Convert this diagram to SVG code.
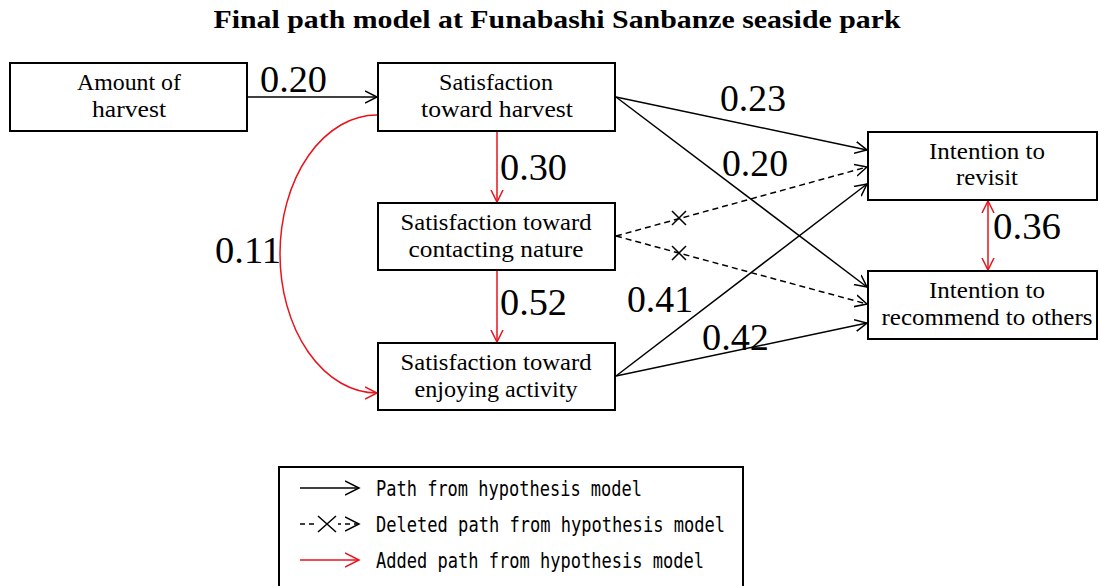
<svg xmlns="http://www.w3.org/2000/svg" width="1099" height="586" viewBox="0 0 1099 586">
<style>
.box{fill:#fff;stroke:#000;stroke-width:2}
.lbl{font-family:"Liberation Serif",serif;font-size:23px;fill:#000;text-anchor:middle}
.num{font-family:"Liberation Serif",serif;font-size:37px;fill:#000}
.title{font-family:"Liberation Serif",serif;font-size:25px;font-weight:bold;fill:#000;text-anchor:middle}
.leg{font-family:"DejaVu Sans Mono",monospace;font-size:21px;fill:#000}
.blk{fill:none;stroke:#000;stroke-width:1.5}
.red{fill:none;stroke:#e8141c;stroke-width:1.5}
.dsh{fill:none;stroke:#000;stroke-width:1.5;stroke-dasharray:6 4}
</style>
<defs>
<marker id="ab" markerUnits="userSpaceOnUse" markerWidth="14" markerHeight="14" refX="12" refY="6" orient="auto-start-reverse" viewBox="0 0 14 12">
<path d="M0,0 L12,6 L0,12" fill="none" stroke="#000" stroke-width="1.5"/>
</marker>
<marker id="ar" markerUnits="userSpaceOnUse" markerWidth="14" markerHeight="14" refX="12" refY="6" orient="auto-start-reverse" viewBox="0 0 14 12">
<path d="M0,0 L12,6 L0,12" fill="none" stroke="#e8141c" stroke-width="1.5"/>
</marker>
<marker id="abl" markerUnits="userSpaceOnUse" markerWidth="16" markerHeight="16" refX="14" refY="7" orient="auto" viewBox="0 0 16 14">
<path d="M0,0 L14,7 L0,14" fill="none" stroke="#000" stroke-width="1.5"/>
</marker>
<marker id="arl" markerUnits="userSpaceOnUse" markerWidth="16" markerHeight="16" refX="14" refY="7" orient="auto" viewBox="0 0 16 14">
<path d="M0,0 L14,7 L0,14" fill="none" stroke="#e8141c" stroke-width="1.5"/>
</marker>
</defs>
<rect width="1099" height="586" fill="#fff"/>
<text class="title" x="557" y="28" textLength="687" lengthAdjust="spacingAndGlyphs">Final path model at Funabashi Sanbanze seaside park</text>

<g id="connectors">
<line class="blk" x1="247" y1="97" x2="377" y2="97" marker-end="url(#ab)"/>
<line class="blk" x1="616" y1="97" x2="867" y2="150" marker-end="url(#ab)"/>
<line class="blk" x1="616" y1="97" x2="867" y2="287" marker-end="url(#ab)"/>
<line class="dsh" x1="616" y1="236" x2="867" y2="167" marker-end="url(#ab)"/>
<line class="dsh" x1="616" y1="236" x2="867" y2="304" marker-end="url(#ab)"/>
<path class="blk" d="M672,211 L686,225 M686,211 L672,225"/>
<path class="blk" d="M672,246 L686,260 M686,246 L672,260"/>
<line class="blk" x1="616" y1="376" x2="867" y2="184" marker-end="url(#ab)"/>
<line class="blk" x1="616" y1="376" x2="867" y2="323" marker-end="url(#ab)"/>
<line class="red" x1="497" y1="131" x2="497" y2="202" marker-end="url(#ar)"/>
<line class="red" x1="497" y1="270" x2="497" y2="342" marker-end="url(#ar)"/>
<path class="red" d="M377,115 A97 139 0 0 0 377,393" marker-end="url(#ar)"/>
<line class="red" x1="988" y1="201" x2="988" y2="270" marker-start="url(#ar)" marker-end="url(#ar)"/>
<text class="num" x="260" y="92" textLength="67" lengthAdjust="spacingAndGlyphs">0.20</text>
<text class="num" x="720" y="111" textLength="66" lengthAdjust="spacingAndGlyphs">0.23</text>
<text class="num" x="722" y="176" textLength="66" lengthAdjust="spacingAndGlyphs">0.20</text>
<text class="num" x="627" y="312" textLength="66" lengthAdjust="spacingAndGlyphs">0.41</text>
<text class="num" x="702" y="350" textLength="67" lengthAdjust="spacingAndGlyphs">0.42</text>
<text class="num" x="500" y="180" textLength="67" lengthAdjust="spacingAndGlyphs">0.30</text>
<text class="num" x="500" y="315" textLength="67" lengthAdjust="spacingAndGlyphs">0.52</text>
<text class="num" x="215" y="263" textLength="66" lengthAdjust="spacingAndGlyphs">0.11</text>
<text class="num" x="993" y="239" textLength="68" lengthAdjust="spacingAndGlyphs">0.36</text>
</g>

<g id="amount">
<rect class="box" x="10" y="63" width="237" height="68"/>
<text class="lbl" x="129" y="90" textLength="104" lengthAdjust="spacingAndGlyphs">Amount of</text>
<text class="lbl" x="129" y="117" textLength="74" lengthAdjust="spacingAndGlyphs">harvest</text>
</g>
<g id="sat-harvest">
<rect class="box" x="378" y="63" width="237" height="68"/>
<text class="lbl" x="496" y="90" textLength="114" lengthAdjust="spacingAndGlyphs">Satisfaction</text>
<text class="lbl" x="497" y="117" textLength="152" lengthAdjust="spacingAndGlyphs">toward harvest</text>
</g>
<g id="sat-nature">
<rect class="box" x="378" y="203" width="237" height="67"/>
<text class="lbl" x="496" y="230" textLength="191" lengthAdjust="spacingAndGlyphs">Satisfaction toward</text>
<text class="lbl" x="496" y="257" textLength="175" lengthAdjust="spacingAndGlyphs">contacting nature</text>
</g>
<g id="sat-activity">
<rect class="box" x="378" y="343" width="237" height="67"/>
<text class="lbl" x="496" y="370" textLength="191" lengthAdjust="spacingAndGlyphs">Satisfaction toward</text>
<text class="lbl" x="496" y="397" textLength="163" lengthAdjust="spacingAndGlyphs">enjoying activity</text>
</g>
<g id="revisit">
<rect class="box" x="868" y="132" width="229" height="68"/>
<text class="lbl" x="987" y="159" textLength="116" lengthAdjust="spacingAndGlyphs">Intention to</text>
<text class="lbl" x="987" y="185" textLength="62" lengthAdjust="spacingAndGlyphs">revisit</text>
</g>
<g id="recommend">
<rect class="box" x="868" y="271" width="229" height="68"/>
<text class="lbl" x="987" y="298" textLength="116" lengthAdjust="spacingAndGlyphs">Intention to</text>
<text class="lbl" x="987" y="325" textLength="211" lengthAdjust="spacingAndGlyphs">recommend to others</text>
</g>

<g id="legend">
<rect x="279" y="467" width="464" height="130" fill="#fff" stroke="#000" stroke-width="2"/>
<line class="blk" x1="300" y1="488" x2="359" y2="488" marker-end="url(#abl)"/>
<text class="leg" x="376" y="496" textLength="266" lengthAdjust="spacingAndGlyphs">Path from hypothesis model</text>
<line x1="300" y1="524" x2="359" y2="524" stroke="#000" stroke-width="1.5" stroke-dasharray="5 4" marker-end="url(#abl)"/>
<rect x="316" y="518" width="22" height="12" fill="#fff"/>
<path d="M318,516 L336,532 M336,516 L318,532" stroke="#000" stroke-width="1.5" fill="none"/>
<text class="leg" x="376" y="532" textLength="349" lengthAdjust="spacingAndGlyphs">Deleted path from hypothesis model</text>
<line class="red" x1="300" y1="560" x2="359" y2="560" marker-end="url(#arl)"/>
<text class="leg" x="376" y="568" textLength="328" lengthAdjust="spacingAndGlyphs">Added path from hypothesis model</text>
</g>
</svg>
